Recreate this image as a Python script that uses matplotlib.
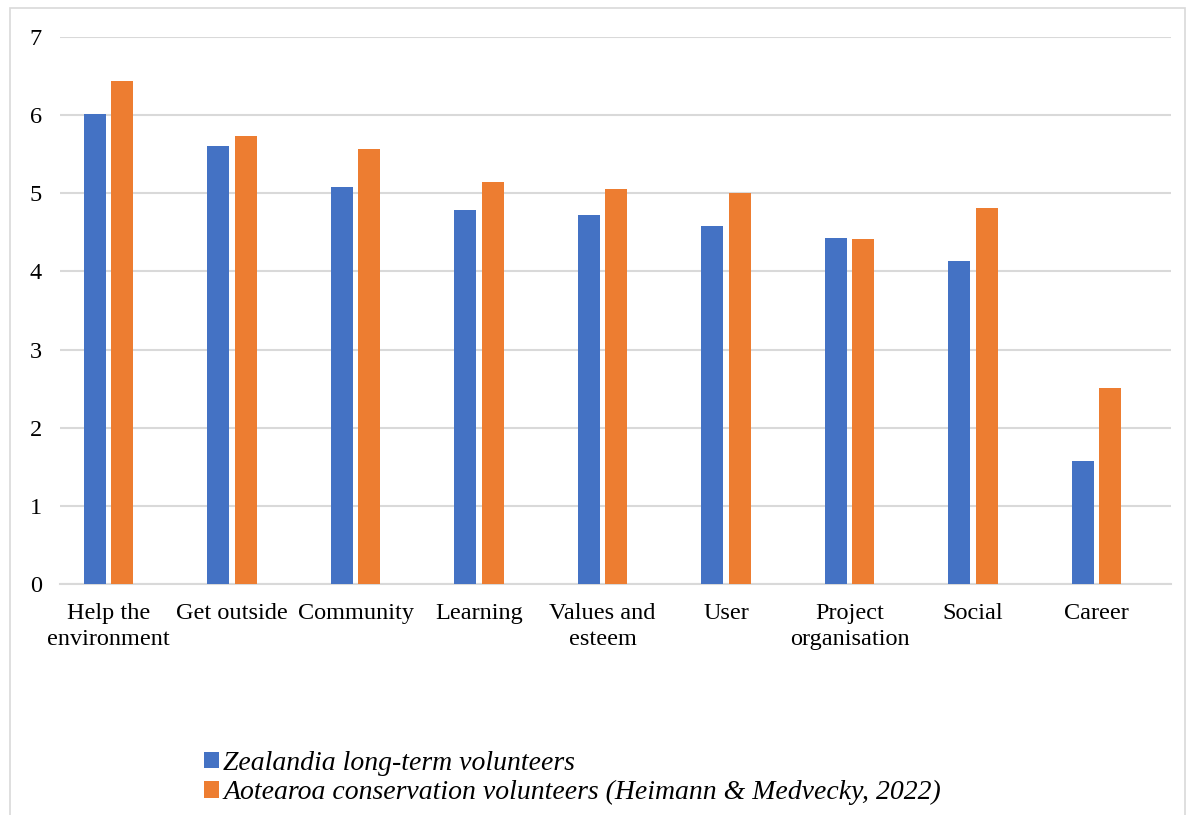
import numpy as np
import matplotlib.pyplot as plt
from matplotlib.patches import Rectangle

# mean motivation scores per category
categories = ["Help the\nenvironment", "Get outside", "Community", "Learning",
              "Values and\nesteem", "User", "Project\norganisation", "Social", "Career"]
zealandia = [6.02, 5.60, 5.08, 4.79, 4.72, 4.58, 4.43, 4.13, 1.58]
aotearoa = [6.44, 5.73, 5.57, 5.15, 5.06, 5.01, 4.42, 4.81, 2.51]
series_names = ["Zealandia long-term volunteers",
                "Aotearoa conservation volunteers (Heimann & Medvecky, 2022)"]
yticks = [0, 1, 2, 3, 4, 5, 6, 7]

plt.rcParams['font.family'] = ['Liberation Serif', 'DejaVu Serif']

W, H = 1194, 815
fig = plt.figure(figsize=(W / 100, H / 100), dpi=100)
ax = fig.add_axes([60 / W, 1 - 584 / H, (1171 - 60) / W, (584 - 37) / H])

x = np.arange(len(categories))
bw = 0.178
off = 0.111
ax.bar(x - off, zealandia, bw, color="#4472C4", label=series_names[0], zorder=3)
ax.bar(x + off, aotearoa, bw, color="#ED7D31", label=series_names[1], zorder=3)

ax.set_xlim(-0.393, 8.603)
ax.set_ylim(0, 7)
ax.set_yticks(yticks)
ax.set_xticks(x)
ax.set_xticklabels(categories, fontsize=17.5, linespacing=1.3)
ax.tick_params(axis='y', length=0, pad=13, labelsize=17.5)
ax.tick_params(axis='x', length=0, pad=14)
ax.grid(axis='y', color="#d9d9d9", linewidth=1.5, zorder=0)
for s in ['left', 'right', 'top']:
    ax.spines[s].set_visible(False)
ax.spines['bottom'].set_color("#d9d9d9")
ax.spines['bottom'].set_linewidth(1.5)

fig.legend(loc='upper left', bbox_to_anchor=(204 / W, 1 - 751 / H),
           frameon=False, prop={'style': 'italic', 'size': 20},
           handlelength=0.54, handleheight=0.54, handletextpad=0.15,
           labelspacing=0.15, borderaxespad=0, borderpad=0)

# outer frame
fig.patches.append(Rectangle((10 / W, -0.05), (1185 - 10) / W, 1.05 - 8 / H,
                             transform=fig.transFigure, fill=False,
                             edgecolor="#d9d9d9", linewidth=1.2))

fig.savefig("out.png", dpi=100)
